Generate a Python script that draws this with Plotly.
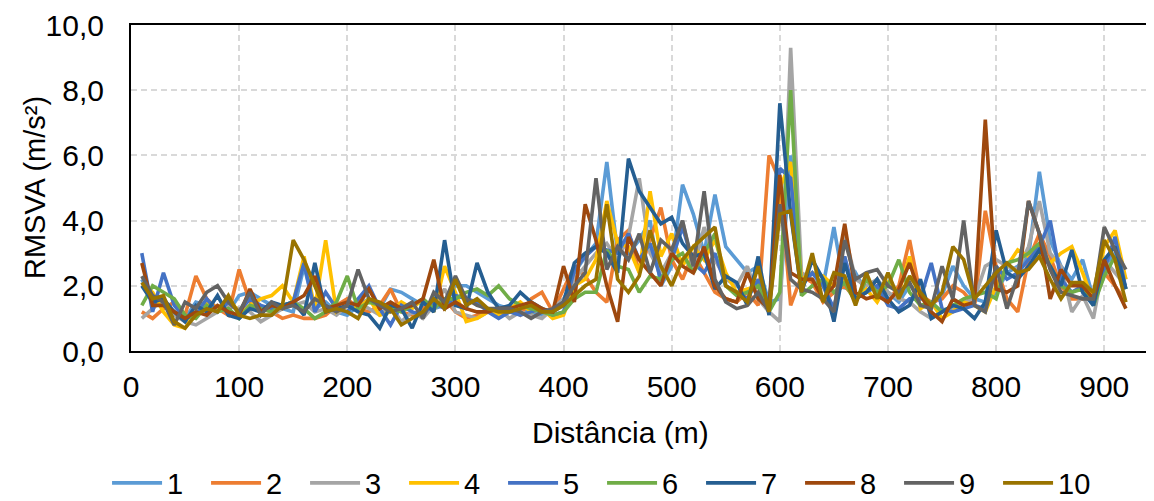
import plotly.graph_objects as go

distance = list(range(10, 930, 10))

s1 = [2.2, 1.6, 1.4, 1.2, 1.0, 1.5, 1.4, 1.3, 1.2, 1.7,
      1.8, 1.6, 1.4, 1.3, 1.2, 2.6, 1.3, 1.5, 1.2, 1.1,
      1.4, 1.6, 1.3, 1.9, 1.8, 1.6, 1.4, 1.3, 1.4, 2.0,
      2.0, 1.8, 1.6, 1.4, 1.3, 1.2, 1.2, 1.1, 1.2, 1.4,
      2.4, 2.9, 3.3, 5.8, 3.0, 3.0, 3.4, 4.0, 2.0, 2.6,
      5.1, 4.2, 3.0, 4.8, 3.2, 2.8, 2.4, 2.6, 1.5, 1.6,
      6.0, 2.2, 2.4, 2.0, 3.8, 1.9, 2.4, 1.8, 2.0, 1.8,
      1.5, 2.0, 1.8, 1.4, 1.7, 2.6, 2.0, 1.6, 1.5, 1.8,
      2.4, 2.6, 2.9, 5.5, 3.4, 2.6, 2.2, 2.8, 1.6, 2.6,
      3.0, 2.2]
s2 = [1.2, 1.0, 1.3, 1.5, 1.1, 2.3, 1.6, 1.3, 1.1, 2.5,
      1.5, 1.3, 1.2, 1.0, 1.1, 1.0, 1.0, 1.1, 1.4, 1.6,
      1.3, 1.2, 1.4, 1.9, 1.2, 1.1, 1.3, 1.5, 1.6, 1.2,
      1.0, 1.1, 1.3, 1.2, 1.3, 1.1, 1.6, 1.8, 1.2, 1.9,
      2.6, 2.3, 1.8, 1.5, 3.4, 3.7, 2.4, 3.4, 4.4, 2.8,
      2.2, 3.0, 2.4, 1.8, 1.6, 1.5, 1.8, 1.4, 6.0, 5.2,
      1.4, 2.3, 2.1, 1.5, 1.8, 2.0, 1.6, 1.8, 2.2, 1.5,
      2.0, 3.4, 1.7, 1.5, 1.6, 2.0, 1.8, 1.4, 4.3, 2.6,
      1.6, 1.2, 2.8, 3.6, 2.9, 2.0, 1.6, 1.6, 1.7, 2.4,
      2.0, 1.5]
s3 = [1.0, 1.3, 1.6, 1.1, 0.9, 0.8, 1.0, 1.2, 1.4, 1.3,
      1.2, 0.9, 1.1, 1.3, 1.4, 1.5, 1.2, 1.3, 1.1, 1.4,
      1.5, 1.3, 1.1, 1.4, 0.9, 1.2, 1.0, 1.4, 1.9, 1.2,
      1.1, 1.0, 1.2, 1.3, 1.0, 1.2, 1.1, 1.0, 1.3, 1.6,
      2.2, 2.6, 3.0, 3.3, 2.8, 3.5, 5.3, 3.0, 2.4, 3.0,
      4.0, 2.5, 3.8, 2.8, 2.2, 2.0, 2.6, 1.6, 1.2, 0.9,
      9.3, 2.4, 2.2, 2.0, 1.2, 3.6, 2.2, 2.0, 2.2, 1.8,
      1.6, 1.5, 1.2, 1.0, 1.2, 1.3, 1.5, 1.6, 2.6, 2.8,
      2.6, 2.5, 3.2, 4.6, 3.0, 2.6, 1.2, 1.7, 1.0, 2.8,
      2.4, 2.0]
s4 = [2.0, 1.8, 1.2, 0.8, 0.7, 1.2, 1.5, 1.3, 1.6, 1.2,
      1.4, 1.6, 1.7, 2.0, 1.5, 2.9, 1.3, 3.4, 1.2, 1.4,
      1.3, 1.6, 1.1, 1.2, 1.5, 1.3, 1.6, 1.2, 2.6, 1.8,
      0.9, 1.0, 1.2, 1.1, 1.3, 1.5, 1.2, 1.3, 1.0, 1.1,
      2.0, 2.2, 2.8, 4.6, 3.3, 3.2, 2.4, 4.9, 2.9, 3.6,
      2.6, 3.2, 2.8, 3.4, 2.4, 1.8, 1.9, 2.0, 1.4, 5.0,
      5.8, 2.2, 2.4, 2.3, 2.0, 2.2, 1.6, 1.9, 1.5, 2.1,
      1.8, 2.9, 1.3, 1.5, 1.0, 1.2, 1.5, 1.4, 1.2, 2.0,
      2.6, 3.1, 2.9, 3.2, 2.7, 3.0, 3.2, 2.4, 1.5, 3.2,
      3.7, 2.2]
s5 = [3.0, 1.2, 2.4, 1.4, 1.0, 1.1, 1.6, 1.2, 1.5, 1.2,
      1.6, 1.4, 1.3, 1.4, 1.5, 2.7, 1.2, 1.8, 1.3, 1.2,
      1.6, 2.0, 1.3, 0.8, 1.4, 1.2, 1.1, 1.5, 1.3, 1.7,
      1.6, 1.5, 1.2, 1.0, 1.2, 1.1, 1.2, 1.3, 1.1, 1.2,
      2.5, 2.9, 3.2, 3.1, 3.0, 3.6, 2.8, 3.3, 2.2, 2.8,
      3.8, 2.7, 2.4, 3.0, 2.0, 1.8, 1.6, 2.2, 1.2, 5.6,
      5.3, 2.0, 2.4, 2.0, 1.3, 2.9, 1.6, 1.8, 2.0, 1.4,
      1.3, 1.6, 1.6, 2.7, 1.3, 1.2, 1.3, 1.4, 1.3, 2.6,
      2.2, 2.4, 2.8, 3.2, 4.0, 2.2, 1.8, 2.0, 1.4, 2.5,
      3.5, 1.9]
s6 = [1.4, 2.0, 1.8, 1.6, 1.1, 1.0, 1.4, 1.2, 1.3, 1.0,
      1.4, 1.3, 1.2, 1.4, 1.5, 1.3, 1.0, 1.2, 1.5, 2.3,
      1.3, 1.5, 1.4, 1.3, 1.2, 1.4, 1.6, 1.3, 1.6, 1.6,
      1.8, 1.9, 1.7, 2.0, 1.6, 1.4, 1.3, 1.2, 1.1, 1.2,
      1.6, 1.8, 1.8, 3.1, 2.6, 2.5, 1.8, 2.3, 2.2, 2.8,
      3.0, 2.4, 3.0, 3.6, 2.0, 1.7, 1.8, 2.0, 1.2, 1.8,
      8.0, 1.7, 2.0, 2.2, 1.8, 2.1, 1.5, 2.2, 1.8, 2.0,
      2.8, 1.8, 1.4, 1.5, 1.2, 1.4, 1.6, 1.7, 1.8, 1.6,
      2.7, 2.8, 3.0, 3.3, 2.6, 2.0, 1.8, 1.9, 1.4, 2.3,
      2.9, 1.9]
s7 = [2.0, 1.5, 1.6, 1.2, 0.9, 1.4, 1.2, 1.7, 1.1, 1.0,
      1.3, 1.2, 1.5, 1.4, 1.5, 1.1, 2.7, 1.2, 1.3, 1.4,
      1.2, 1.1, 0.7, 1.4, 1.3, 0.7, 1.5, 1.2, 3.4, 1.4,
      1.3, 2.7, 1.8, 1.3, 1.4, 1.8, 1.5, 1.3, 1.2, 1.5,
      2.7, 3.0, 3.2, 3.0, 2.4, 5.9, 4.9, 4.4, 3.9, 4.1,
      3.3, 2.9, 3.0, 1.9, 2.3, 2.1, 1.4, 2.9, 1.1, 7.6,
      4.2, 1.8, 2.8, 2.2, 0.9, 2.7, 1.6, 1.8, 2.2, 1.6,
      1.2, 1.4, 2.2, 1.0, 1.2, 1.4, 1.3, 1.0, 1.5, 3.7,
      2.4, 2.2, 2.6, 3.1, 2.6, 2.0, 3.1, 1.8, 1.4, 2.8,
      3.2, 1.9]
s8 = [2.7, 1.4, 1.4, 1.2, 1.0, 1.2, 1.1, 1.4, 1.2, 1.1,
      1.9, 1.2, 1.4, 1.3, 1.5, 1.7, 2.3, 1.3, 1.4, 1.5,
      1.4, 1.9, 1.3, 1.5, 1.3, 1.4, 1.6, 2.8, 1.3, 1.5,
      1.3, 1.2, 1.2, 1.3, 1.3, 1.4, 1.5, 1.3, 1.2, 2.6,
      1.5, 4.5, 3.4, 2.0, 0.9, 3.5, 2.8, 2.4, 2.0, 3.0,
      2.6, 2.4, 3.2, 2.0, 1.6, 1.5, 2.4, 1.6, 1.3, 5.4,
      2.4, 2.2, 2.2, 1.6, 2.0, 3.9, 1.8, 1.6, 1.7, 1.5,
      1.9, 2.7, 1.7, 1.2, 0.9, 1.6, 1.4, 1.5, 7.1, 1.9,
      1.8, 2.0, 4.6, 3.6, 1.6, 2.5, 2.0, 2.0, 1.6, 2.8,
      2.0, 1.3]
s9 = [2.3, 1.7, 1.5, 0.8, 1.5, 1.3, 1.8, 2.0, 1.5, 1.2,
      1.8, 1.1, 1.5, 1.3, 1.4, 1.2, 1.6, 1.4, 1.2, 1.4,
      2.5, 1.6, 1.4, 1.2, 1.3, 1.5, 1.0, 1.8, 1.5, 2.3,
      1.6, 1.4, 1.3, 1.3, 1.3, 1.2, 1.0, 1.2, 1.3, 1.5,
      2.0, 2.4, 5.3, 2.5, 3.2, 2.8, 3.6, 2.4, 3.4, 3.1,
      4.0, 2.6, 4.9, 2.2, 1.5, 1.3, 1.4, 1.8, 1.2, 4.5,
      2.2, 1.9, 1.8, 1.6, 1.2, 3.4, 2.2, 2.4, 2.5, 2.0,
      1.8, 2.1, 1.4, 1.3, 2.6, 1.6, 4.0, 1.4, 1.2, 2.6,
      1.3, 2.3, 4.6, 3.6, 2.5, 1.8, 1.7, 1.6, 1.6, 3.8,
      3.1, 2.5]
s10 = [2.1, 1.6, 1.7, 0.9, 0.7, 1.1, 1.3, 1.2, 1.7, 1.1,
       1.0, 1.1, 1.1, 1.4, 3.4, 2.8, 2.0, 1.2, 1.3, 1.2,
       1.0, 1.6, 1.5, 1.3, 0.8, 1.0, 1.2, 1.6, 1.3, 2.2,
       1.4, 1.6, 1.3, 1.2, 1.2, 1.3, 1.4, 1.2, 1.2, 1.4,
       1.7, 2.0, 2.2, 4.5, 2.2, 1.8, 2.3, 3.7, 2.6, 2.0,
       2.8, 3.2, 3.5, 3.8, 2.0, 1.8, 1.5, 2.6, 1.2, 4.2,
       4.3, 1.8, 3.0, 1.5, 2.4, 2.3, 1.4, 2.4, 1.6, 2.4,
       1.6, 2.3, 1.8, 1.4, 1.8, 3.2, 2.8, 1.6, 2.0, 2.4,
       2.7, 2.4, 2.5, 2.9, 2.2, 1.6, 2.1, 2.1, 1.8, 3.4,
       2.8, 1.5]

series_names = ["1", "2", "3", "4", "5", "6", "7", "8", "9", "10"]
series_values = [s1, s2, s3, s4, s5, s6, s7, s8, s9, s10]
colors = ["#5B9BD5", "#ED7D31", "#A5A5A5", "#FFC000", "#4472C4",
          "#70AD47", "#255E91", "#9E480E", "#636363", "#997300"]
x_ticks = list(range(0, 1000, 100))

FONT = "Liberation Sans, Arial, sans-serif"
FS = 30

fig = go.Figure()
for name, vals, col in zip(series_names, series_values, colors):
    fig.add_trace(go.Scatter(x=distance, y=vals, mode="lines", name=name,
                             line=dict(color=col, width=3.6)))

fig.update_layout(
    width=1146, height=493,
    margin=dict(l=123, r=0, t=17, b=150, autoexpand=False),
    plot_bgcolor="white", paper_bgcolor="white",
    separators=",.",
    font=dict(family=FONT, size=FS, color="#000000"),
    legend=dict(orientation="h", x=-0.0234, xanchor="left", y=-0.405, yanchor="middle",
                font=dict(size=29), itemwidth=50, entrywidth=34,
                tracegroupgap=0, bgcolor="rgba(0,0,0,0)"),
    showlegend=True,
    annotations=[
        dict(text="Distância (m)", xref="paper", yref="paper", x=0.4785, y=-0.2515,
             xanchor="center", yanchor="middle", showarrow=False,
             font=dict(size=FS)),
        dict(text="RMSVA (m/s²)", xref="paper", yref="paper", x=-0.0938, y=0.5,
             xanchor="center", yanchor="middle", textangle=-90, showarrow=False,
             font=dict(size=FS - 1)),
    ],
)
fig.update_xaxes(range=[0, 946], tickvals=x_ticks, showgrid=True,
                 gridcolor="#D9D9D9", griddash="6px,4px", gridwidth=2,
                 showline=True, linecolor="#000000", linewidth=2, mirror=True,
                 ticks="", zeroline=False, automargin=False,
                 ticklabelstandoff=8, tickfont=dict(size=FS))
fig.update_yaxes(range=[0, 10], dtick=2, tickformat=".1f", showgrid=True,
                 gridcolor="#D9D9D9", griddash="6px,4px", gridwidth=2,
                 showline=True, linecolor="#000000", linewidth=2,
                 ticks="", zeroline=False, automargin=False,
                 ticklabelstandoff=19, tickfont=dict(size=FS))

fig.write_html("out.html")
